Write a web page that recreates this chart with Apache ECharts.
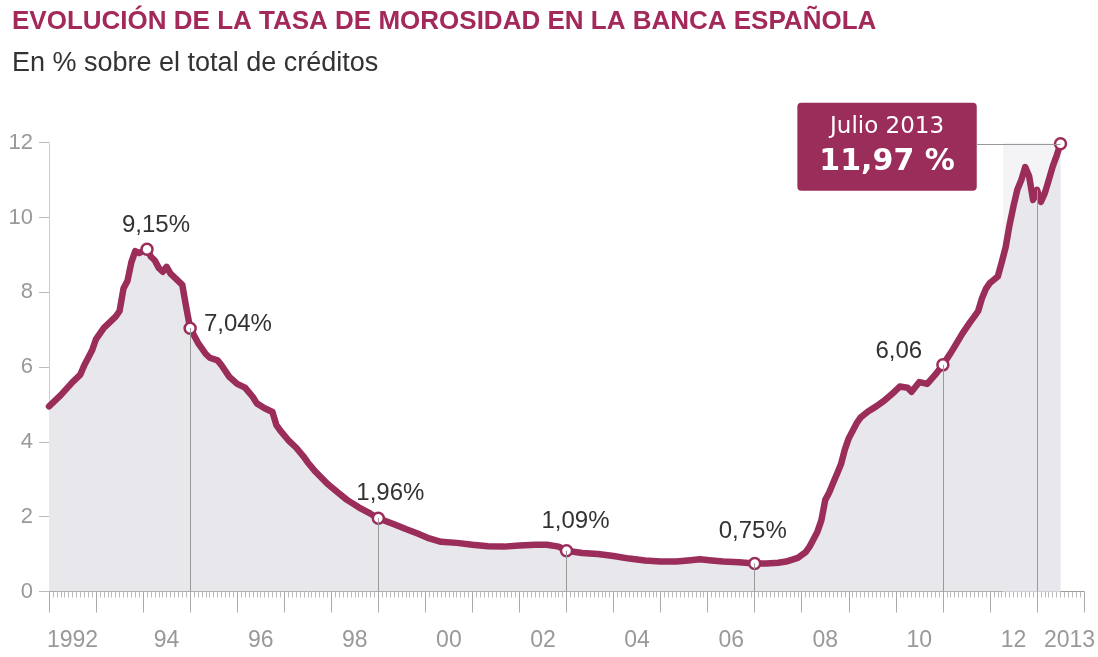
<!DOCTYPE html>
<html>
<head>
<meta charset="utf-8">
<title>Evolución de la tasa de morosidad</title>
<script src="https://cdn.jsdelivr.net/npm/echarts@6/dist/echarts.min.js"></script>
<style>
html, body { margin: 0; padding: 0; background: #fff; }
#main { width: 1098px; height: 657px; }
</style>
</head>
<body>
<div id="main"></div>
<script>
// tasa de morosidad (%), lecturas aproximadas del gráfico original
var months = [
  '1992-01', '1992-04', '1992-07', '1992-09', '1992-10', '1992-12',
  '1993-01', '1993-03', '1993-05', '1993-06', '1993-07', '1993-08', '1993-09', '1993-10', '1993-11', '1993-12',
  '1994-01', '1994-02', '1994-03', '1994-04', '1994-05', '1994-06', '1994-07', '1994-08', '1994-09', '1994-10', '1994-11', '1994-12',
  '1995-01', '1995-03', '1995-05', '1995-06', '1995-08', '1995-09', '1995-11',
  '1996-01', '1996-03', '1996-05', '1996-06', '1996-08', '1996-10', '1996-11', '1996-12',
  '1997-02', '1997-04', '1997-06', '1997-07', '1997-09', '1997-12',
  '1998-03', '1998-05', '1998-08', '1998-11',
  '1999-01', '1999-05', '1999-08', '1999-11',
  '2000-02', '2000-05', '2000-09',
  '2001-01', '2001-05', '2001-09',
  '2002-01', '2002-05', '2002-08', '2002-11',
  '2003-01', '2003-05', '2003-09',
  '2004-01', '2004-05', '2004-09',
  '2005-01', '2005-05', '2005-08', '2005-11',
  '2006-02', '2006-05', '2006-09',
  '2007-01', '2007-04', '2007-07', '2007-09', '2007-12',
  '2008-02', '2008-03', '2008-04', '2008-05', '2008-06', '2008-07', '2008-08', '2008-09', '2008-10', '2008-11', '2008-12',
  '2009-01', '2009-02', '2009-03', '2009-04', '2009-06', '2009-08', '2009-10', '2009-12',
  '2010-02', '2010-04', '2010-05', '2010-07', '2010-09', '2010-11',
  '2011-01', '2011-03', '2011-04', '2011-06', '2011-08', '2011-09', '2011-10', '2011-11', '2011-12',
  '2012-01', '2012-03', '2012-04', '2012-05', '2012-06', '2012-07', '2012-08', '2012-09', '2012-10', '2012-11', '2012-12',
  '2013-01', '2013-02', '2013-03', '2013-04', '2013-05', '2013-06', '2013-07'
];
var rates = [
  4.95, 5.25, 5.6, 5.8, 6.05, 6.45,
  6.75, 7.05, 7.25, 7.35, 7.5, 8.1, 8.3, 8.8, 9.1, 9.05,
  9.1, 9.15, 8.95, 8.85, 8.65, 8.55, 8.68, 8.5, 8.4, 8.3, 8.2, 7.6,
  7.04, 6.65, 6.35, 6.25, 6.18, 6.05, 5.74,
  5.55, 5.45, 5.2, 5.03, 4.9, 4.8, 4.45, 4.3,
  4.05, 3.85, 3.6, 3.45, 3.2, 2.88,
  2.62, 2.45, 2.25, 2.08,
  1.96, 1.8, 1.67, 1.55,
  1.42, 1.33, 1.3,
  1.25, 1.21, 1.2,
  1.23, 1.25, 1.25, 1.2,
  1.09, 1.03, 1.0,
  0.95, 0.88, 0.83,
  0.8, 0.8, 0.83, 0.86,
  0.83, 0.8, 0.78,
  0.75, 0.75, 0.77, 0.8, 0.9,
  1.05, 1.2, 1.4, 1.6, 1.9, 2.45, 2.65, 2.9, 3.15, 3.4, 3.8,
  4.1, 4.3, 4.5, 4.65, 4.82, 4.95, 5.1, 5.28,
  5.48, 5.45, 5.34, 5.6, 5.55, 5.79,
  6.06, 6.38, 6.55, 6.9, 7.21, 7.35, 7.5, 7.85, 8.1,
  8.25, 8.42, 8.8, 9.2, 9.8, 10.3, 10.75, 11.0, 11.35, 11.1, 10.47,
  10.74, 10.42, 10.65, 11.0, 11.36, 11.65, 11.97
];

// años del eje y etiquetas visibles
var years = ['1992', '1993', '1994', '1995', '1996', '1997', '1998', '1999', '2000', '2001', '2002',
  '2003', '2004', '2005', '2006', '2007', '2008', '2009', '2010', '2011', '2012', '2013'];
var yearLabels = ['1992', '', '94', '', '96', '', '98', '', '00', '', '02',
  '', '04', '', '06', '', '08', '', '10', '', '12', '2013'];
var yTicks = [0, 2, 4, 6, 8, 10, 12];

// puntos destacados
var markMonths = ['1994-02', '1995-01', '1999-01', '2003-01', '2007-01', '2011-01', '2013-07'];
var markTexts = ['9,15%', '7,04%', '1,96%', '1,09%', '0,75%', '6,06', '11,97 %'];
var dropMonths = ['1995-01', '1999-01', '2003-01', '2007-01', '2011-01', '2013-01'];
var lastMonthName = 'Julio 2013';

var MAROON = '#9b2d5b';
var START_YEAR = 1992;

function monthIndex (s) {
  var p = s.split('-');
  return (parseInt(p[0], 10) - START_YEAR) * 12 + parseInt(p[1], 10) - 1;
}
function rateAt (s) {
  return rates[months.indexOf(s)];
}

var points = months.map(function (m, i) { return [monthIndex(m), rates[i]]; });

// colocación de las etiquetas de los puntos destacados
var labelLayout = [
  { position: 'top', distance: 5, offset: [9, 0] },
  { position: 'right', distance: 7, offset: [0, -4] },
  { position: 'top', distance: 6, offset: [12, 0] },
  { position: 'top', distance: 11, offset: [9, 0] },
  { position: 'top', distance: 13, offset: [-2, 0] },
  { position: 'left', distance: 14, offset: [0, -13] },
  null
];

var markData = markMonths.map(function (m, i) {
  var item = { value: [monthIndex(m), rateAt(m)] };
  if (labelLayout[i]) {
    item.label = Object.assign({ show: true, formatter: markTexts[i] }, labelLayout[i]);
  } else {
    item.label = {
      show: true,
      position: 'left',
      distance: 77,
      offset: [0, 3],
      formatter: '{a|' + lastMonthName + '}\n{b|' + markTexts[i] + '}',
      backgroundColor: MAROON,
      borderRadius: 4,
      padding: [8, 22, 10, 22],
      rich: {
        a: { color: '#fff', fontSize: 23, fontFamily: 'DejaVu Sans', lineHeight: 32, align: 'center' },
        b: { color: '#fff', fontSize: 30, fontWeight: 'bold', fontFamily: 'DejaVu Sans', lineHeight: 38, align: 'center' }
      }
    };
  }
  return item;
});

var lastMonth = markMonths[markMonths.length - 1];
var dropLines = dropMonths.map(function (m) {
  return [{ coord: [monthIndex(m), 0] }, { coord: [monthIndex(m), rateAt(m)] }];
});
// línea que une el recuadro con el último dato
dropLines.push([{ coord: [236.5, rateAt(lastMonth)] }, { coord: [monthIndex(lastMonth), rateAt(lastMonth)] }]);

var chart = echarts.init(document.getElementById('main'));

chart.setOption({
  animation: false,
  backgroundColor: '#fff',
  textStyle: { fontFamily: 'Liberation Sans, Arial, sans-serif' },
  title: [
    {
      text: 'EVOLUCIÓN DE LA TASA DE MOROSIDAD EN LA BANCA ESPAÑOLA',
      left: 7,
      top: 4,
      textStyle: { color: '#a3295b', fontSize: 26, fontWeight: 'bold', fontFamily: 'Liberation Sans' }
    },
    {
      text: 'En % sobre el total de créditos',
      left: 7,
      top: 45,
      textStyle: { color: '#333', fontSize: 27, fontWeight: 'normal', fontFamily: 'Liberation Sans' }
    }
  ],
  grid: { left: 49, right: 10, top: 142.7, bottom: 65.5 },
  xAxis: [
    {
      type: 'value',
      min: 0,
      max: 264,
      interval: 12,
      axisLine: { show: true, lineStyle: { color: '#999', width: 1 } },
      axisTick: { show: true, length: 21, lineStyle: { color: '#aaa' } },
      minorTick: { show: true, splitNumber: 12, length: 6, lineStyle: { color: '#bbb' } },
      axisLabel: { show: false },
      splitLine: { show: false }
    },
    {
      type: 'category',
      data: years,
      boundaryGap: true,
      position: 'bottom',
      axisLine: { show: false },
      axisTick: { show: false },
      splitLine: { show: false },
      axisLabel: {
        interval: 0,
        margin: 38,
        color: '#999',
        fontSize: 23,
        formatter: function (v, i) {
          if (i === years.length - 1) return '{r|' + yearLabels[i] + '}';
          return yearLabels[i];
        },
        rich: { r: { color: '#999', fontSize: 23, padding: [0, 0, 0, 18] } }
      }
    }
  ],
  yAxis: {
    type: 'value',
    min: yTicks[0],
    max: yTicks[yTicks.length - 1],
    interval: 2,
    axisLine: { show: true, lineStyle: { color: '#ccc' } },
    axisTick: { show: true, length: 10, lineStyle: { color: '#bbb' } },
    axisLabel: { color: '#999', fontSize: 22, margin: 16 },
    splitLine: { show: false }
  },
  series: [
    {
      // franja clara del último tramo
      type: 'line',
      z: 0,
      data: [],
      markArea: {
        silent: true,
        itemStyle: { color: '#f4f4f6' },
        data: [[{ coord: [243.4, 0] }, { coord: [monthIndex(lastMonth), 12.25] }]]
      }
    },
    {
      // relleno gris bajo la curva
      type: 'line',
      z: 1,
      data: points,
      showSymbol: false,
      lineStyle: { width: 0, opacity: 0 },
      areaStyle: { color: '#e8e8ec', opacity: 1 }
    },
    {
      // líneas verticales de referencia
      type: 'line',
      z: 2,
      data: [],
      markLine: {
        silent: true,
        symbol: ['none', 'none'],
        label: { show: false },
        lineStyle: { color: '#999', width: 1, type: 'solid' },
        data: dropLines
      }
    },
    {
      type: 'line',
      z: 3,
      data: points,
      showSymbol: false,
      smooth: false,
      lineStyle: { color: MAROON, width: 6.5, cap: 'round', join: 'round' }
    },
    {
      type: 'scatter',
      z: 4,
      data: markData,
      symbol: 'circle',
      symbolSize: 11,
      itemStyle: { color: '#fff', borderColor: MAROON, borderWidth: 2.5, opacity: 1 },
      label: { color: '#333', fontSize: 24, fontFamily: 'Liberation Sans' }
    }
  ]
});
</script>
</body>
</html>
